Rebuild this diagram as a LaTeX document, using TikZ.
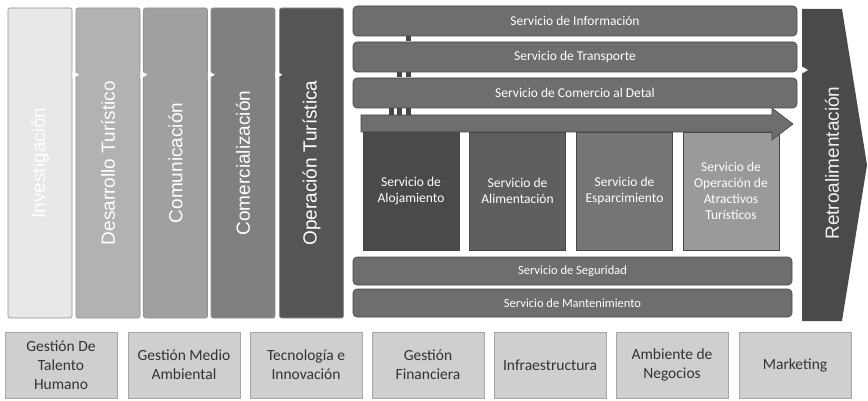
\documentclass[tikz,border=0pt]{standalone}
\usepackage{fontspec}
\setmainfont{Carlito}
\newfontfamily\arialfont{Liberation Sans}
\usepackage{tikz}
\definecolor{cinv}{RGB}{232, 232, 232}
\definecolor{cdes}{RGB}{178, 178, 178}
\definecolor{ccom}{RGB}{160, 160, 160}
\definecolor{ccme}{RGB}{128, 128, 128}
\definecolor{cope}{RGB}{85, 85, 85}
\definecolor{cbar}{RGB}{110, 110, 110}
\definecolor{caloj}{RGB}{74, 74, 74}
\definecolor{calim}{RGB}{95, 95, 95}
\definecolor{cesp}{RGB}{118, 118, 118}
\definecolor{catr}{RGB}{154, 154, 154}
\definecolor{cretro}{RGB}{74, 74, 74}
\definecolor{cbase}{RGB}{207, 207, 207}
\definecolor{cedge}{RGB}{70, 70, 70}
\usetikzlibrary{positioning}

\begin{document}
\begin{tikzpicture}
			[x=1pt,y=-1pt,every node/.style={inner sep=0pt},
			colbox/.style={rounded corners=2pt, minimum width=64pt, minimum height=310pt, draw=cedge!60, line width=0.6pt, text=white, font=\arialfont\fontsize{19}{21}\selectfont},
			barbox/.style={rounded corners=4pt, minimum width=444pt, minimum height=30pt, fill=cbar, draw=cedge, line width=0.6pt, text=white, font=\fontsize{13.5}{15}\selectfont},
			srvbox/.style={minimum width=96pt, minimum height=118pt, draw=cedge, line width=0.6pt, text=white, align=center, font=\fontsize{13.5}{16}\selectfont},
			basebox/.style={minimum width=112pt, minimum height=66pt, fill=cbase, draw=gray!70, line width=0.6pt, text=black!80, align=center, font=\fontsize{15.5}{19}\selectfont}]
			\useasboundingbox (0,0) rectangle (868,401);
			% columnas
			\node (inv) [colbox, fill=cinv] at (40, 163) {\rotatebox{90}{Investigación}};
			\node (des) [colbox, fill=cdes] at (108, 163) {\rotatebox{90}{Desarrollo Turístico}};
			\node (com) [colbox, fill=ccom] at (175.5, 163) {\rotatebox{90}{Comunicación}};
			\node (cme) [colbox, fill=ccme] at (243, 163) {\rotatebox{90}{Comercialización}};
			\node (ope) [colbox, fill=cope] at (311.5, 163) {\rotatebox{90}{Operación Turística}};
			\foreach \c in {inv, des, com, cme}
				\fill [white] (\c.north east) ++(0, 63) -- ++(7, 4) -- ++(-7, 4) -- cycle;
			% servicios
			\node (info) [barbox] at (575, 21) {Servicio de Información};
			\node (trans) [barbox] at (575, 57) {Servicio de Transporte};
			\node (detal) [barbox] at (575, 93) {Servicio de Comercio al Detal};
			\fill [cedge] (405.5, 36.5) rectangle (410.5, 41.5);
			\foreach \x in {397, 405.5}
				\fill [cedge] (\x, 72.5) rectangle (\x+5, 77.5);
			\foreach \x in {388.5, 397, 405.5}
				\fill [cedge] (\x, 108.5) rectangle (\x+5, 116);
			\node (aloj) [srvbox, fill=caloj] at (411, 191) {Servicio de\\Alojamiento};
			\node (alim) [srvbox, fill=calim] at (517.5, 191) {Servicio de\\Alimentación};
			\node (esp) [srvbox, fill=cesp] at (624.5, 191) {Servicio de\\Esparcimiento};
			\node (atr) [srvbox, fill=catr] at (731, 191) {Servicio de\\Operación de\\Atractivos\\Turísticos};
			\fill [cbar, draw=cedge, line width=0.6pt] (361, 115) -- (772, 115) -- (772, 108) -- (793, 124) -- (772, 140) -- (772, 132) -- (361, 132) -- cycle;
			\node (seg) [barbox, minimum width=439pt, minimum height=28pt, font=\fontsize{12.5}{14}\selectfont] at (572.5, 271) {Servicio de Seguridad};
			\node (mant) [barbox, minimum width=439pt, minimum height=28pt, font=\fontsize{12.5}{14}\selectfont] at (572.5, 303) {Servicio de Mantenimiento};
			% retroalimentacion
			\fill [cretro] (802, 9) -- (842, 9) -- (867, 165) -- (842, 321) -- (802, 321) -- cycle;
			\node (retro) [text=white!90!gray, font=\arialfont\fontsize{19}{21}\selectfont] at (832, 163) {\rotatebox{90}{Retroalimentación}};
			\fill [white] (801, 66) -- ++(7, 4) -- ++(-7, 4) -- cycle;
			% base
			\node (tal) [basebox] at (61, 365) {Gestión De\\Talento\\Humano};
			\node (amb) [basebox] at (184, 365) {Gestión Medio\\Ambiental};
			\node (tec) [basebox] at (306, 365) {Tecnología e\\Innovación};
			\node (fin) [basebox] at (428, 365) {Gestión\\Financiera};
			\node (inf) [basebox] at (550, 365) {Infraestructura};
			\node (neg) [basebox] at (672, 365) {Ambiente de\\Negocios};
			\node (mkt) [basebox] at (795, 365) {Marketing};
	\end{tikzpicture}
\end{document}
